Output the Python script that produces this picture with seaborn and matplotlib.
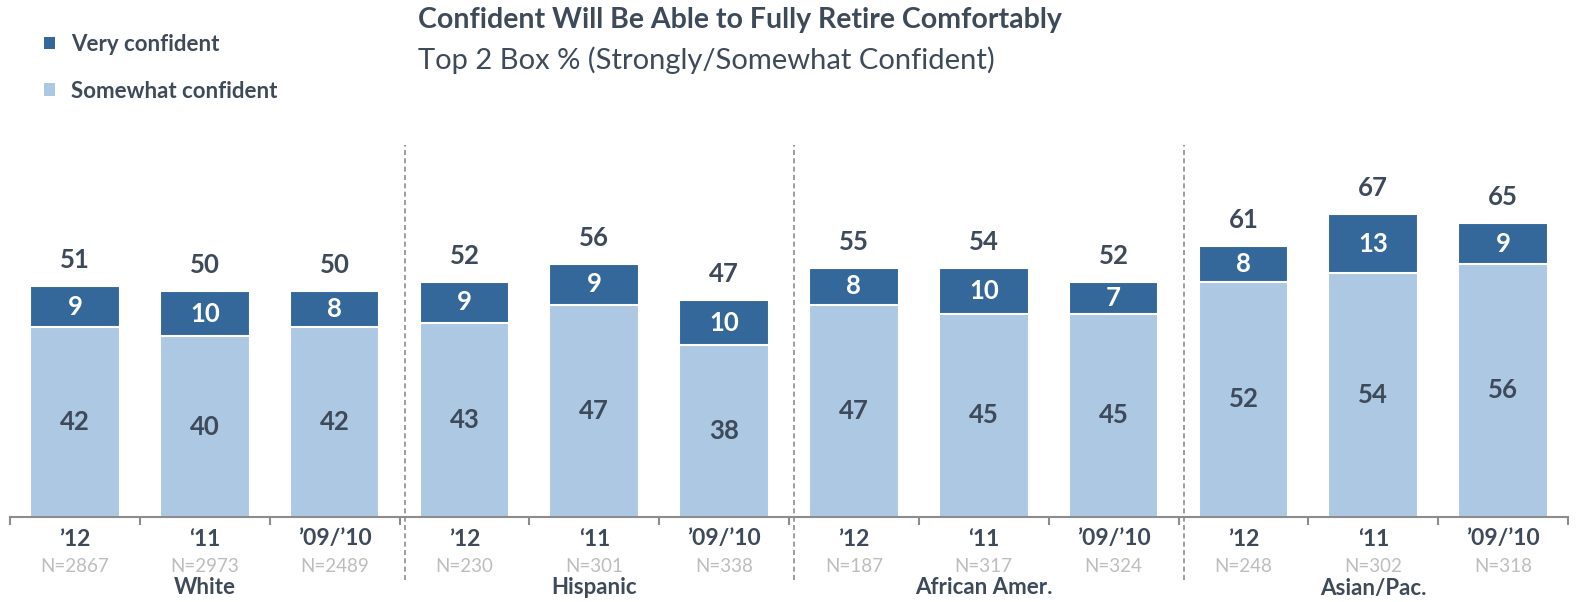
import matplotlib.pyplot as plt
import matplotlib.transforms as mtransforms
import pandas as pd
import seaborn as sns

groups = ["White", "Hispanic", "African Amer.", "Asian/Pac."]
years = ["\u201912", "\u201811", "\u201909/\u201910"]
somewhat = [42, 40, 42, 43, 47, 38, 47, 45, 45, 52, 54, 56]
very = [9, 10, 8, 9, 9, 10, 8, 10, 7, 8, 13, 9]
totals = [51, 50, 50, 52, 56, 47, 55, 54, 52, 61, 67, 65]
n_sizes = [2867, 2973, 2489, 230, 301, 338, 187, 317, 324, 248, 302, 318]

DARK = "#34679a"
LIGHT = "#adc8e3"
TEXT = "#3e4a59"
GREY = "#bdbdbd"

sns.set_theme(style="white")
plt.rcParams["font.family"] = ["Lato", "DejaVu Sans"]

keys = [f"{g} {y}" for g in groups for y in years]
df = pd.DataFrame({
    "key": keys,
    "somewhat": somewhat,
    "very": very,
    "top": [s + v for s, v in zip(somewhat, very)],
})

fig = plt.figure(figsize=(15.76, 6.02), dpi=100)
ax = fig.add_axes([10 / 1576, 85 / 602, 1558 / 1576, 377 / 602])

sns.barplot(data=df, x="key", y="top", order=keys, color=DARK, width=0.69,
            edgecolor="white", linewidth=1.5, saturation=1, ax=ax, label="Very confident")
sns.barplot(data=df, x="key", y="somewhat", order=keys, color=LIGHT, width=0.69,
            edgecolor="white", linewidth=1.5, saturation=1, ax=ax, label="Somewhat confident")

ax.set_xlim(-0.5, 11.5)
ax.set_ylim(0, 83.4)
ax.set_xlabel("")
ax.set_ylabel("")
ax.set_yticks([])
for side in ["top", "right", "left"]:
    ax.spines[side].set_visible(False)
ax.spines["bottom"].set_color("#8c8c8c")
ax.spines["bottom"].set_linewidth(1.5)
ax.set_xticks([i - 0.5 for i in range(13)])
ax.set_xticklabels([])
ax.tick_params(axis="x", direction="out", length=6, width=1.5, color="#8c8c8c", bottom=True)

# segment and total labels
for i in range(len(keys)):
    s, v = somewhat[i], very[i]
    ax.text(i, s / 2, str(s), ha="center", va="center", fontsize=18.5, fontweight="bold", color=TEXT)
    ax.text(i, s + v / 2, str(v), ha="center", va="center", fontsize=18.5, fontweight="bold", color="white")
    ax.text(i, s + v + 5.8, str(totals[i]), ha="center", va="center", fontsize=18.5,
            fontweight="bold", color=TEXT)

# category labels below the axis
trans = mtransforms.blended_transform_factory(ax.transData, fig.transFigure)
for i in range(len(keys)):
    ax.text(i, 1 - 539 / 602, years[i % 3], transform=trans, ha="center", va="center",
            fontsize=16.5, fontweight="bold", color=TEXT)
    ax.text(i, 1 - 567 / 602, f"N={n_sizes[i]}", transform=trans, ha="center", va="center",
            fontsize=13.5, color=GREY)
for g, name in enumerate(groups):
    ax.text(g * 3 + 1, 1 - 588 / 602, name, transform=trans, ha="center", va="center",
            fontsize=16, fontweight="bold", color=TEXT)

# dashed group separators
for b in [2.54, 5.54, 8.54]:
    ax.plot([b, b], [1 - 580 / 602, 1 - 145 / 602], transform=trans, color="#8c8c8c",
            linestyle=(0, (3, 2)), linewidth=1.2, clip_on=False)

# titles
fig.text(418 / 1576, 1 - 20 / 602, "Confident Will Be Able to Fully Retire Comfortably",
         ha="left", va="center", fontsize=20.5, fontweight="bold", color=TEXT)
fig.text(418 / 1576, 1 - 60 / 602, "Top 2 Box % (Strongly/Somewhat Confident)",
         ha="left", va="center", fontsize=21, color=TEXT)

handles, labels = ax.get_legend_handles_labels()
leg = fig.legend(handles[:1] + handles[-1:], ["Very confident", "Somewhat confident"],
                 loc="upper left", bbox_to_anchor=(24 / 1576, 1 - 14 / 602), frameon=False,
                 handlelength=0.5, handleheight=0.5, handletextpad=0.7, labelspacing=1.15,
                 prop={"weight": "bold", "size": 16})
for t in leg.get_texts():
    t.set_color(TEXT)
for p in leg.get_patches():
    p.set_linewidth(0)
if ax.get_legend() is not None:
    ax.get_legend().remove()

fig.savefig("out.png", dpi=100)
